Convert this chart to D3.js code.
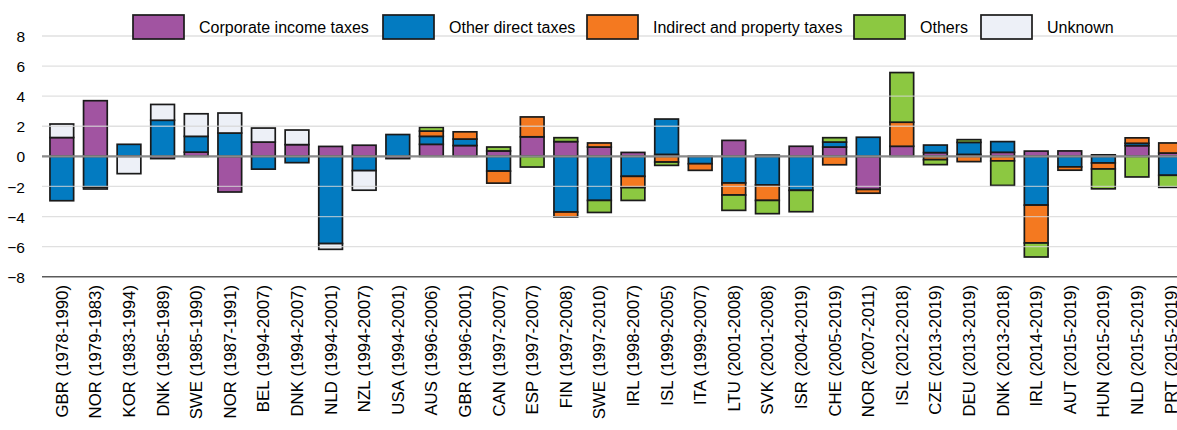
<!DOCTYPE html>
<html>
<head>
<meta charset="utf-8">
<script src="https://cdn.jsdelivr.net/npm/d3@7"></script>
<style>
  html, body { margin: 0; padding: 0; background: #fff; }
  svg { display: block; font-family: "Liberation Sans", Arial, sans-serif; }
</style>
</head>
<body>
<svg id="chart" width="1177" height="430"></svg>
<script>
const categories = [
  "GBR (1978-1990)", "NOR (1979-1983)", "KOR (1983-1994)", "DNK (1985-1989)", "SWE (1985-1990)",
  "NOR (1987-1991)", "BEL (1994-2007)", "DNK (1994-2007)", "NLD (1994-2001)", "NZL (1994-2007)",
  "USA (1994-2001)", "AUS (1996-2006)", "GBR (1996-2001)", "CAN (1997-2007)", "ESP (1997-2007)",
  "FIN (1997-2008)", "SWE (1997-2010)", "IRL (1998-2007)", "ISL (1999-2005)", "ITA (1999-2007)",
  "LTU (2001-2008)", "SVK (2001-2008)", "ISR (2004-2019)", "CHE (2005-2019)", "NOR (2007-2011)",
  "ISL (2012-2018)", "CZE (2013-2019)", "DEU (2013-2019)", "DNK (2013-2018)", "IRL (2014-2019)",
  "AUT (2015-2019)", "HUN (2015-2019)", "NLD (2015-2019)", "PRT (2015-2019)"
];
const seriesNames = ["Corporate income taxes", "Other direct taxes", "Indirect and property taxes", "Others", "Unknown"];
const corporate = [1.25, 3.7, 0, -0.15, 0.28, -2.37, 0.95, 0.78, 0.66, 0.74, -0.15, 0.8, 0.72, 0.36, 1.3, 0.98, 0.62, 0.26, 0.13, 0, 1.06, 0.08, 0.67, 0.62, -2.2, 0.67, 0.25, 0.13, 0.27, 0.35, 0.36, 0.1, 0.71, 0.22];
const otherDirect = [-2.95, -2.05, 0.8, 2.4, 1.05, 1.55, -0.85, -0.42, -5.8, -0.95, 1.45, 0.53, 0.43, -0.98, 0, -3.7, -2.93, -1.33, 2.35, -0.49, -1.77, -1.9, -2.26, 0.33, 1.27, 0, 0.5, 0.8, 0.71, -3.24, -0.7, -0.44, 0.16, -1.26];
const indirect = [0, 0, 0, 0, 0, 0, 0, 0, 0, 0, 0, 0.35, 0.48, -0.8, 1.32, -0.33, 0.27, -0.75, -0.38, -0.44, -0.8, -1.03, 0, -0.56, -0.25, 1.6, -0.22, -0.35, -0.3, -2.52, -0.22, -0.4, 0.36, 0.67];
const others = [0, 0, 0, 0, 0, 0, 0, 0, 0, 0, 0, 0.25, 0, 0.26, -0.71, 0.26, -0.8, -0.85, -0.22, 0, -1.02, -0.88, -1.42, 0.29, 0, 3.3, -0.33, 0.18, -1.63, -0.93, 0, -1.32, -1.37, -0.8];
const unknown = [0.9, -0.12, -1.15, 1.05, 1.5, 1.33, 0.93, 0.97, -0.38, -1.3, 0, 0, 0, 0, 0, 0, 0, 0, 0, 0, 0, 0, 0, 0, 0, 0, 0, 0, 0, 0, 0, 0, 0, 0];
const yTicks = [-8, -6, -4, -2, 0, 2, 4, 6, 8];

const colors = ["#A154A1", "#037BC1", "#F47920", "#8CC841", "#EDF0F7"];
const seriesValues = [corporate, otherDirect, indirect, others, unknown];
const legendX = [133, 383, 587, 854, 981];

const rows = categories.map((c, i) => {
  const r = { cat: c };
  seriesNames.forEach((s, j) => { r[s] = seriesValues[j][i]; });
  return r;
});

const svg = d3.select("#chart");
const W = 1177;

const x = d3.scaleBand().domain(categories).range([45, 45 + 34 * 33.6]).paddingInner(0.295).paddingOuter(0.1475);
const y = d3.scaleLinear().domain([-8, 8]).range([276.7, 36]);

const stack = d3.stack().keys(seriesNames).offset(d3.stackOffsetDiverging);
const stacked = stack(rows);

// bars
const gBars = svg.append("g");
stacked.forEach((layer, j) => {
  gBars.append("g")
    .attr("fill", colors[j])
    .selectAll("rect")
    .data(layer.filter(d => Math.abs(d[1] - d[0]) > 1e-9))
    .join("rect")
    .attr("x", d => x(d.data.cat))
    .attr("width", x.bandwidth())
    .attr("y", d => y(Math.max(d[0], d[1])))
    .attr("height", d => Math.abs(y(d[0]) - y(d[1])))
    .attr("stroke", "#1a1a1a")
    .attr("stroke-width", 1.7);
});

// gridlines (drawn over bars, light)
const gGrid = svg.append("g");
yTicks.filter(t => t !== 0 && t !== -8).forEach(t => {
  gGrid.append("line")
    .attr("x1", 42).attr("x2", W)
    .attr("y1", y(t)).attr("y2", y(t))
    .attr("stroke", "#d6d6d6").attr("stroke-opacity", 0.75).attr("stroke-width", 1.3);
});
// zero line
svg.append("line")
  .attr("x1", 42).attr("x2", W)
  .attr("y1", y(0)).attr("y2", y(0))
  .attr("stroke", "#8a8a8a").attr("stroke-width", 2.4);
// bottom axis line
svg.append("line")
  .attr("x1", 42).attr("x2", W)
  .attr("y1", y(-8)).attr("y2", y(-8))
  .attr("stroke", "#5a5a5a").attr("stroke-width", 1.5);

// y tick labels
const yAxis = d3.axisLeft(y).tickValues(yTicks).tickSize(0).tickPadding(0);
const gy = svg.append("g").attr("transform", "translate(25,0)").call(yAxis);
gy.select(".domain").remove();
gy.selectAll("text")
  .attr("font-size", 15.5)
  .attr("font-family", "Liberation Sans, Arial, sans-serif")
  .attr("fill", "#000")
  .attr("x", 0)
  .attr("dy", "0.36em");

// x labels
const gx = svg.append("g");
gx.selectAll("text")
  .data(categories)
  .join("text")
  .attr("transform", d => `translate(${x(d) + x.bandwidth() / 2},285) rotate(-90)`)
  .attr("text-anchor", "end")
  .attr("dy", "0.36em")
  .attr("font-size", 16.8)
  .attr("fill", "#000")
  .text(d => d);

// legend
const legend = svg.append("g");
seriesNames.forEach((s, j) => {
  const lx = legendX[j];
  legend.append("rect")
    .attr("x", lx).attr("y", 15).attr("width", 51).attr("height", 24)
    .attr("fill", colors[j]).attr("stroke", "#1a1a1a").attr("stroke-width", 1.7);
  legend.append("text")
    .attr("x", lx + 66).attr("y", 27).attr("dy", "0.36em")
    .attr("font-size", 16).attr("fill", "#000")
    .text(s);
});
</script>
</body>
</html>
